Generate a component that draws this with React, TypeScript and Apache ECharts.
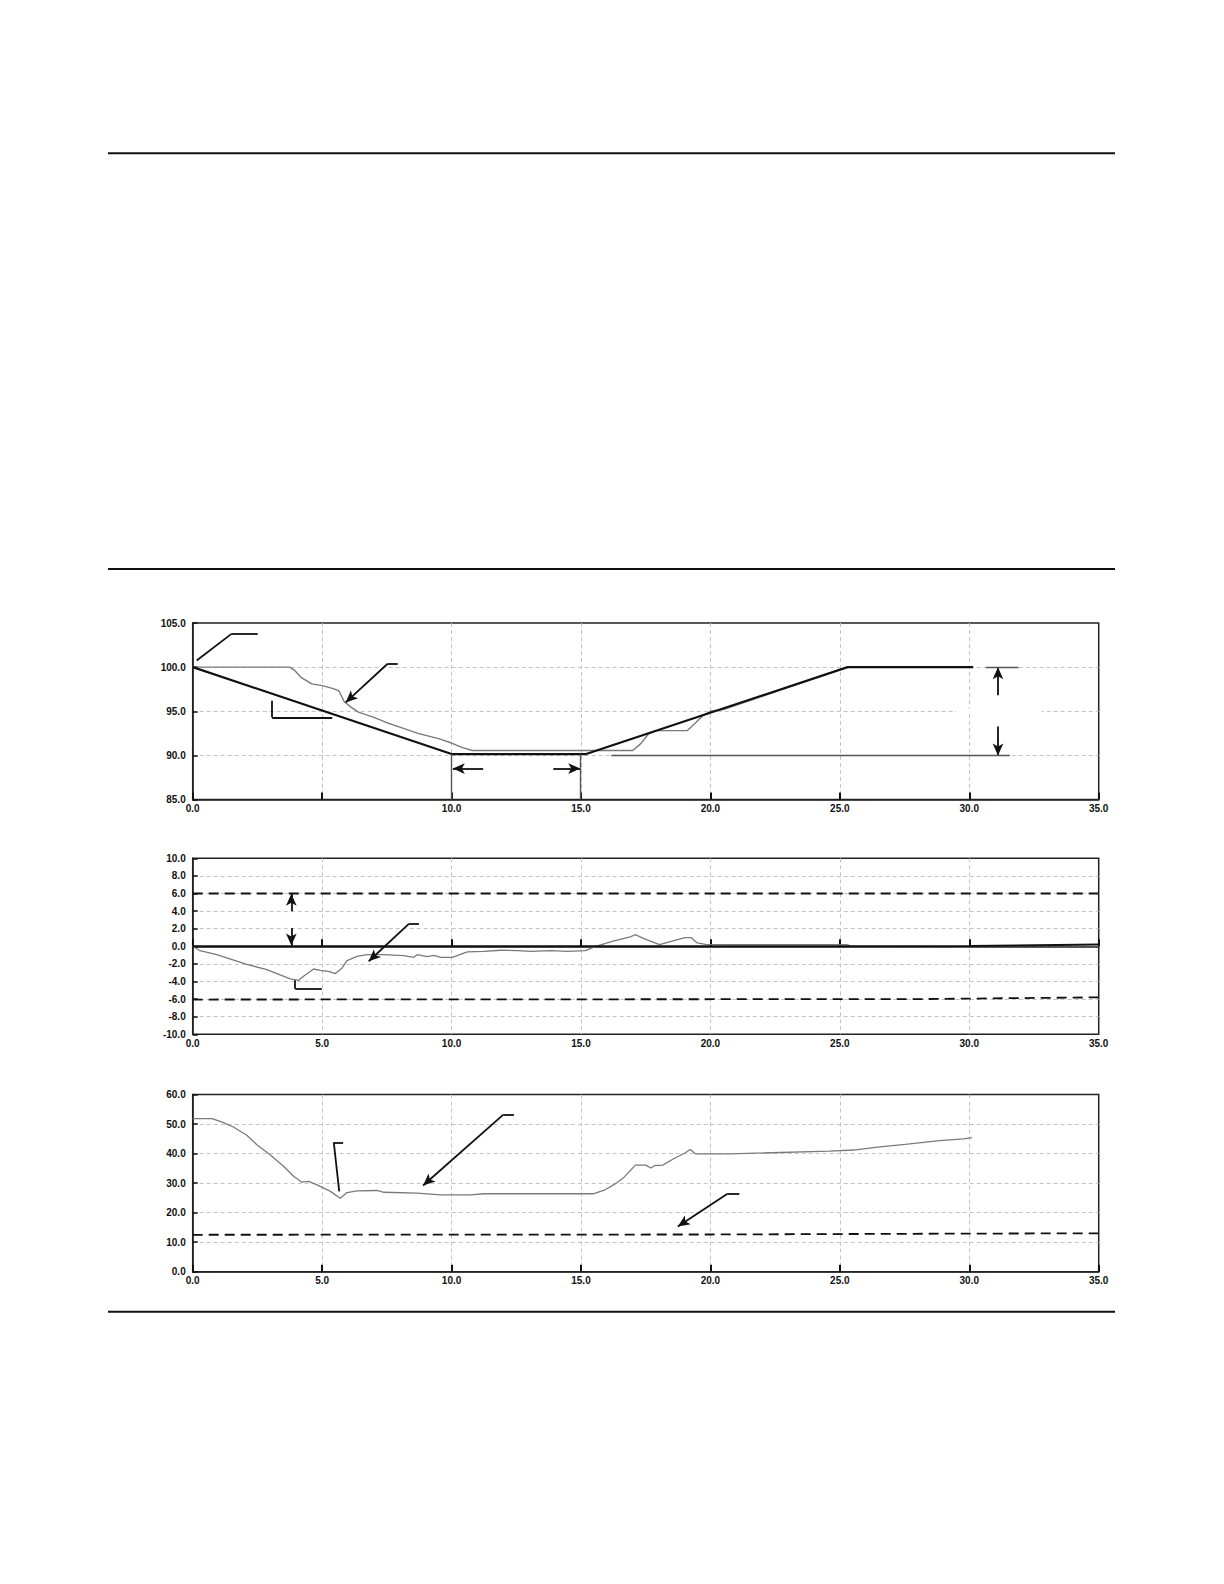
import React, { useEffect, useRef } from 'react';
import * as echarts from 'echarts';

// tick labels
const xTicks = [0, 5, 10, 15, 20, 25, 30, 35];
const topYTicks = [85, 90, 95, 100, 105];
const midYTicks = [-10, -8, -6, -4, -2, 0, 2, 4, 6, 8, 10];
const botYTicks = [0, 10, 20, 30, 40, 50, 60];

// top panel: set point (black) and measured value (gray)
const topSetpoint = [[0, 100], [10, 90.15], [15.2, 90.15], [25.3, 100], [30.15, 100]];
const topMeasured = [
  [0, 100], [3.75, 100], [3.95, 99.6], [4.2, 98.8], [4.6, 98.1], [5.0, 97.9], [5.4, 97.6],
  [5.65, 97.3], [5.85, 96.1], [6.1, 95.5], [6.4, 94.9], [7.0, 94.3], [7.5, 93.7], [8.0, 93.2],
  [8.7, 92.5], [9.5, 91.9], [10.0, 91.4], [10.4, 90.9], [10.8, 90.55], [15.3, 90.55],
  [17.0, 90.55], [17.3, 91.3], [17.6, 92.4], [17.9, 92.8], [19.1, 92.8], [19.4, 93.6],
  [19.7, 94.5], [20.0, 95.0], [20.5, 95.2], [22.0, 96.7], [23.5, 98.2], [25.3, 100], [30.15, 100],
];

// middle panel: deviation, zero line and limits
const midDeviation = [
  [0, 0], [0.28, -0.5], [0.93, -0.95], [2.09, -2.05], [2.86, -2.65], [3.77, -3.7], [4.09, -3.86],
  [4.28, -3.41], [4.67, -2.58], [4.93, -2.73], [5.25, -2.84], [5.51, -3.1], [5.77, -2.46],
  [5.96, -1.63], [6.35, -1.14], [6.74, -0.95], [7.38, -0.95], [8.15, -1.06], [8.54, -1.25],
  [8.67, -0.95], [9.06, -1.17], [9.32, -1.02], [9.57, -1.25], [10.03, -1.25], [10.61, -0.64],
  [11.25, -0.57], [11.9, -0.45], [12.54, -0.49], [13.06, -0.57], [13.83, -0.49], [14.48, -0.57],
  [15.17, -0.5], [15.57, 0], [16.24, 0.6], [16.9, 1.06], [17.1, 1.32], [17.43, 0.87],
  [18.03, 0.19], [18.63, 0.68], [19.02, 0.98], [19.26, 0.98], [19.49, 0.38], [19.82, 0.23],
  [20.88, 0.19], [25.27, 0.19], [25.4, 0.05],
];
const midZero = [[0, 0], [25.3, 0], [30, 0.04], [35, 0.2]];
const midUpperLimit = [[0, 6], [35, 6]];
const midLowerLimit = [[0, -6.05], [28, -6.0], [35, -5.8]];

// bottom panel: measured value and limit
const botMeasured = [
  [0, 51.85], [0.74, 51.85], [1.12, 50.7], [1.57, 49.0], [2.09, 46.2], [2.48, 43.0], [2.99, 39.6],
  [3.51, 35.7], [3.9, 32.3], [4.22, 30.3], [4.48, 30.6], [4.8, 29.4], [5.32, 27.2], [5.7, 24.9],
  [5.96, 26.8], [6.35, 27.4], [7.12, 27.5], [7.38, 26.9], [8.67, 26.6], [9.57, 26.0],
  [10.74, 26.0], [11.25, 26.4], [15.5, 26.4], [15.9, 27.6], [16.37, 30.0], [16.63, 31.7],
  [17.1, 36.1], [17.5, 36.1], [17.7, 35.1], [17.83, 35.9], [18.16, 36.1], [18.63, 38.5],
  [19.02, 40.2], [19.22, 41.4], [19.42, 39.9], [20.75, 39.9], [24.6, 40.8], [25.53, 41.2],
  [26.46, 42.2], [27.52, 43.1], [28.85, 44.4], [29.78, 45.0], [30.11, 45.4],
];
const botLimit = [[0, 12.5], [20, 12.6], [30, 12.9], [35, 13.0]];

// annotation segments in data units: [x1, y1, x2, y2, arrowAtEnd]
const topNotes: [number, number, number, number, boolean][] = [
  [0.155, 100.76, 1.51, 103.8, false], [1.51, 103.8, 2.51, 103.8, false],
  [7.92, 100.38, 7.53, 100.38, false], [7.53, 100.38, 5.91, 96.0, true],
  [3.07, 96.2, 3.07, 94.3, false], [3.07, 94.3, 5.39, 94.3, false],
  [11.22, 88.5, 10.05, 88.5, true], [13.93, 88.5, 14.97, 88.5, true],
  [31.11, 96.82, 31.11, 100, true], [31.11, 93.26, 31.11, 90, true],
];
const topGuides: [number, number, number, number][] = [
  [10, 90.15, 10, 85], [14.97, 90.15, 14.97, 85], [30.64, 100, 31.9, 100], [16.17, 90, 31.57, 90],
];
const midNotes: [number, number, number, number, boolean][] = [
  [3.81, 3.98, 3.81, 5.98, true], [3.81, 2.08, 3.81, 0.08, true],
  [3.96, -3.86, 3.96, -4.81, false], [3.96, -4.81, 4.99, -4.81, false],
  [8.74, 2.54, 8.35, 2.54, false], [8.35, 2.54, 6.8, -1.7, true],
];
const botNotes: [number, number, number, number, boolean][] = [
  [5.66, 27.2, 5.45, 43.8, false], [5.45, 43.8, 5.81, 43.8, false],
  [12.41, 53.2, 12.0, 53.2, false], [12.0, 53.2, 8.9, 29.2, true],
  [21.12, 26.4, 20.66, 26.4, false], [20.66, 26.4, 18.74, 15.3, true],
];

const FONT = 'Liberation Sans, Arial, sans-serif';
const GRAY = '#7a7a7a';
const INK = '#111';

const App: React.FC = () => {
  const chartRef = useRef<HTMLDivElement>(null);

  useEffect(() => {
    if (!chartRef.current) return;
    const chart = echarts.init(chartRef.current, undefined, { renderer: 'svg' });

    const grids = [
      { left: 192.7, top: 623, width: 906, height: 176.5 },
      { left: 192.7, top: 858.3, width: 906, height: 176 },
      { left: 192.7, top: 1094.5, width: 906, height: 177.2 },
    ].map(g => ({ ...g, show: true, borderColor: '#222', borderWidth: 1.5, backgroundColor: 'transparent' }));

    const label = {
      fontSize: 10,
      fontWeight: 'bold' as const,
      color: INK,
      fontFamily: FONT,
    };
    const split = {
      show: true,
      showMinLine: false,
      showMaxLine: false,
      lineStyle: { color: '#c4c4c4', type: [4, 3], width: 1 },
    };

    const xAxis = [0, 1, 2].map(i => ({
      type: 'value',
      gridIndex: i,
      min: xTicks[0],
      max: xTicks[xTicks.length - 1],
      interval: xTicks[1] - xTicks[0],
      axisLine: { show: true, lineStyle: { color: '#222', width: 1.5 } },
      axisTick: { show: true, inside: true, length: 7, lineStyle: { color: INK, width: 2 } },
      axisLabel: {
        ...label,
        margin: 4,
        formatter: (v: number) => (i === 0 && v === 5 ? '' : v.toFixed(1)),
      },
      splitLine: split,
    }));

    const yAxis = [topYTicks, midYTicks, botYTicks].map((ticks, i) => ({
      type: 'value',
      gridIndex: i,
      min: ticks[0],
      max: ticks[ticks.length - 1],
      interval: ticks[1] - ticks[0],
      axisLine: { show: true, lineStyle: { color: '#222', width: 1.5 } },
      axisTick: { show: true, inside: true, length: 5, lineStyle: { color: INK, width: 1.5 } },
      axisLabel: { ...label, margin: 7, formatter: (v: number) => v.toFixed(1) },
      splitLine: split,
    }));

    const notesToMarkLine = (
      notes: [number, number, number, number, boolean][],
      guides: [number, number, number, number][] = []
    ) => ({
      silent: true,
      symbolSize: [8, 12],
      label: { show: false },
      emphasis: { disabled: true },
      lineStyle: { type: 'solid', color: INK, width: 1.8 },
      data: [
        ...notes.map(([x1, y1, x2, y2, arrow]) => [
          { coord: [x1, y1], symbol: 'none' },
          { coord: [x2, y2], symbol: arrow ? 'arrow' : 'none' },
        ]),
        ...guides.map(([x1, y1, x2, y2]) => [
          { coord: [x1, y1], symbol: 'none', lineStyle: { color: '#555', width: 1.4, type: 'solid' } },
          { coord: [x2, y2], symbol: 'none' },
        ]),
      ],
    });

    const lineSeries = (
      data: number[][],
      gi: number,
      color: string,
      width: number,
      type: any = 'solid',
      extra: any = {}
    ) => ({
      type: 'line',
      xAxisIndex: gi,
      yAxisIndex: gi,
      data,
      showSymbol: false,
      symbol: 'none',
      silent: true,
      lineStyle: { color, width, type },
      ...extra,
    });

    chart.setOption({
      animation: false,
      grid: grids,
      xAxis,
      yAxis,
      graphic: [153.3, 569, 1311.7].map(y => ({
        type: 'line',
        shape: { x1: 108, y1: y, x2: 1115, y2: y },
        style: { stroke: INK, lineWidth: 2 },
        silent: true,
      })),
      series: [
        lineSeries(topMeasured, 0, GRAY, 1.4, 'solid', {
          markArea: {
            silent: true,
            itemStyle: { color: '#ffffff' },
            data: [[{ coord: [29.5, 94.7] }, { coord: [32.8, 95.3] }]],
          },
        }),
        lineSeries(topSetpoint, 0, INK, 2.2, 'solid', { markLine: notesToMarkLine(topNotes, topGuides) }),
        lineSeries(midDeviation, 1, GRAY, 1.3),
        lineSeries(midZero, 1, INK, 2.0, 'solid', { markLine: notesToMarkLine(midNotes) }),
        lineSeries(midUpperLimit, 1, INK, 1.8, [10, 6]),
        lineSeries(midLowerLimit, 1, INK, 1.8, [10, 6]),
        lineSeries(botMeasured, 2, GRAY, 1.3),
        lineSeries(botLimit, 2, INK, 1.8, [10, 6], { markLine: notesToMarkLine(botNotes) }),
      ],
    });

    return () => {
      chart.dispose();
    };
  }, []);

  return (
    <div
      ref={chartRef}
      style={{ position: 'absolute', left: 0, top: 0, width: '1224px', height: '1584px', background: '#fff' }}
    ></div>
  );
};

export default App;
